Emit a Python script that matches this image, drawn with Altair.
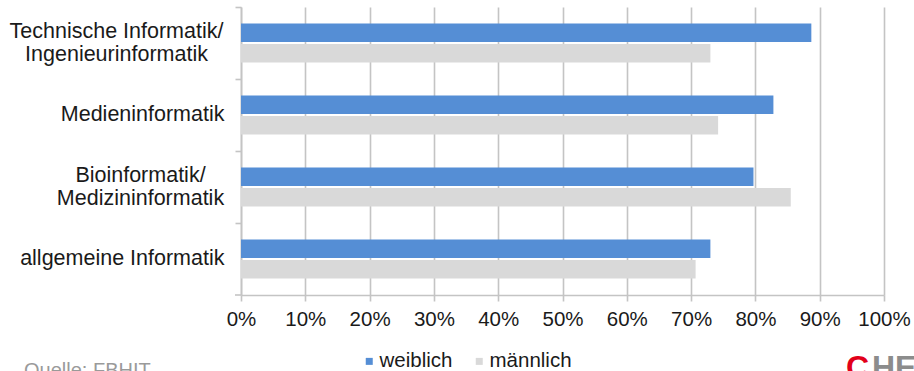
import altair as alt
import pandas as pd

# Share of students per programme, by gender
categories = [
    "Technische Informatik/\nIngenieurinformatik",
    "Medieninformatik",
    "Bioinformatik/\nMedizininformatik",
    "allgemeine Informatik",
]
genders = ["weiblich", "männlich"]
weiblich = [0.887, 0.828, 0.797, 0.730]
maennlich = [0.730, 0.742, 0.855, 0.707]
x_ticks = [i / 10 for i in range(11)]

rows = []
for cat, w, m in zip(categories, weiblich, maennlich):
    rows.append({"kategorie": cat, "geschlecht": "weiblich", "anteil": w})
    rows.append({"kategorie": cat, "geschlecht": "männlich", "anteil": m})
df = pd.DataFrame(rows)

FONT = "Liberation Sans"
AXIS_GRAY = "#c4c4c4"

# two-line labels: lines centred on each other, block centred on its band
IS_TECH = "indexof(datum.value, 'Technische') >= 0"
IS_BIO = "indexof(datum.value, 'Bioinformatik') >= 0"
IS_MULTI = "indexof(datum.value, '\\n') >= 0"

bars = alt.Chart(df).mark_bar().encode(
    x=alt.X(
        "anteil:Q",
        scale=alt.Scale(domain=[0, 1], nice=False),
        axis=alt.Axis(
            title=None,
            values=x_ticks,
            format=".0%",
            grid=True,
            gridColor=AXIS_GRAY,
            gridWidth=1.6,
            domainColor=AXIS_GRAY,
            domainWidth=1.6,
            tickColor=AXIS_GRAY,
            tickWidth=1.6,
            tickSize=6,
            labelPadding=8,
            labelOverlap=False,
            labelFlush=False,
            labelFont=FONT,
            labelFontSize=20.5,
            labelColor="#1a1a1a",
        ),
    ),
    y=alt.Y(
        "kategorie:N",
        sort=categories,
        scale=alt.Scale(paddingInner=0, paddingOuter=0),
        axis=alt.Axis(
            title=None,
            bandPosition=0,
            labelExpr="split(datum.label, '\\n')",
            labelLineHeight=22.5,
            labelAlign={"condition": {"test": IS_MULTI, "value": "center"}, "value": "right"},
            labelPadding={
                "condition": [
                    {"test": IS_TECH, "value": 119},
                    {"test": IS_BIO, "value": 95},
                ],
                "value": 11,
            },
            labelOffset={"condition": {"test": IS_MULTI, "value": -11}, "value": 0},
            labelFont=FONT,
            labelFontSize=21.5,
            labelColor="#1a1a1a",
            labelLimit=400,
            domainColor=AXIS_GRAY,
            domainWidth=1.6,
            tickColor=AXIS_GRAY,
            tickWidth=1.6,
            tickSize=6,
            grid=False,
        ),
    ),
    yOffset=alt.YOffset(
        "geschlecht:N",
        sort=genders,
        scale=alt.Scale(paddingInner=0.0976, paddingOuter=0.805),
    ),
    color=alt.Color(
        "geschlecht:N",
        sort=genders,
        scale=alt.Scale(domain=genders, range=["#558ED5", "#D9D9D9"]),
        legend=alt.Legend(
            title=None,
            orient="none",
            direction="horizontal",
            legendX=118,
            legendY=344,
            symbolType="square",
            symbolSize=49,
            symbolStrokeWidth=0,
            labelFont=FONT,
            labelFontSize=20.5,
            labelColor="#1a1a1a",
            labelOffset=0,
            columnPadding=16,
        ),
    ),
)

# closing tick at the bottom of the category axis
bottom_tick = alt.Chart(pd.DataFrame({"k": [0]})).mark_rule(
    color=AXIS_GRAY, strokeWidth=1.6
).encode(x=alt.value(-6), x2=alt.value(0), y=alt.value(288))

source = alt.Chart(pd.DataFrame({"t": ["Quelle: FBHIT"]})).mark_text(
    font=FONT, fontSize=20, color="#9a9a9a", align="left", baseline="alphabetic"
).encode(x=alt.value(-217), y=alt.value(370), text="t:N")

logo_c = alt.Chart(pd.DataFrame({"t": ["C"]})).mark_text(
    font=FONT, fontSize=32, fontWeight="bold", color="#e2001a", align="left",
    baseline="alphabetic",
).encode(x=alt.value(605), y=alt.value(371), text="t:N")

logo_he = alt.Chart(pd.DataFrame({"t": ["HE"]})).mark_text(
    font=FONT, fontSize=32, fontWeight="bold", color="#8c8c8c", align="left",
    baseline="alphabetic",
).encode(x=alt.value(631), y=alt.value(371), text="t:N")

chart = alt.layer(bars, bottom_tick, source, logo_c, logo_he).properties(
    width=643,
    height=288,
    padding={"left": 241, "top": 7, "right": 30, "bottom": 76},
    autosize=alt.AutoSizeParams(type="none"),
).configure_view(stroke=None)

chart.save("out.html", embed_options={"renderer": "svg", "actions": False})
